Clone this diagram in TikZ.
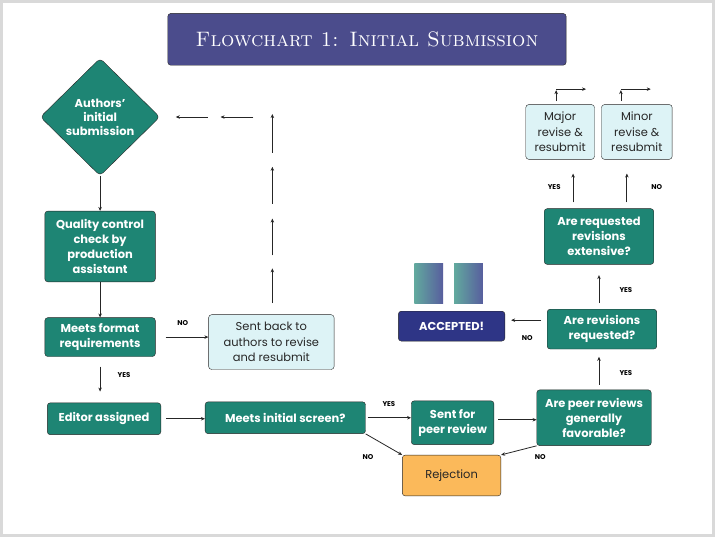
\documentclass[tikz,border=0pt]{standalone}
\usepackage{fontspec}
\setsansfont{Poppins}
\usetikzlibrary{arrows.meta, shapes.geometric}
\definecolor{teal1}{HTML}{1E8574}
\definecolor{pale}{HTML}{DDF3F6}
\definecolor{navy}{HTML}{2E3586}
\definecolor{plum}{HTML}{4B4C8C}
\definecolor{amber}{HTML}{FBB95A}
\tikzset{
  box/.style = {draw=black!85, rounded corners=3pt, align=center, inner sep=1pt,
    font=\sffamily\bfseries\fontsize{11.5}{15}\selectfont},
  stepbox/.style = {box, fill=teal1, text=white},% green step
  backbox/.style = {box, fill=pale, text=black!85, font=\sffamily\fontsize{11.5}{15.5}\selectfont},
  flow/.style = {-{Stealth[length=4pt,width=3.5pt]}, thick, draw=black!85},
  tag/.style = {font=\sffamily\bfseries\fontsize{7}{8}\selectfont}
}
\begin{document}
\begin{tikzpicture}[x=1pt, y=-1pt]
\draw[black!15, line width=3pt, fill=white] (0,0) rectangle (715,536);
\useasboundingbox (0,0) rectangle (715,536);
% title
\node (title) [box, fill=plum, text=white, minimum width=400, minimum height=52,
  font=\fontsize{21}{24}\selectfont] at (367,38) {\textsc{Flowchart 1: Initial Submission}};
% boxes
\node (auth) [stepbox, diamond, rounded corners=4pt, minimum width=120, minimum height=118, aspect=1,
  inner sep=0pt] at (99,116) {};
\node (authtext) [text=white, align=center, font=\sffamily\bfseries\fontsize{11.5}{14}\selectfont]
  at (auth.center) {Authors'\\initial\\submission};
\node (qc) [stepbox, minimum width=111, minimum height=71] at (99,246) {Quality control\\check by\\production\\assistant};
\node (fmt) [stepbox, minimum width=111, minimum height=39] at (99,337) {Meets format\\requirements};
\node (ed) [stepbox, minimum width=114, minimum height=32] at (103,419) {Editor assigned};
\node (scr) [stepbox, minimum width=161, minimum height=32] at (285,418) {Meets initial screen?};
\node (back) [backbox, minimum width=126, minimum height=55] at (271,342) {Sent back to\\authors to revise\\and resubmit};
\node (peer) [stepbox, minimum width=83, minimum height=44] at (453,423) {Sent for\\peer review};
\node (rej) [box, fill=amber, text=black!85, font=\sffamily\fontsize{11.5}{14}\selectfont,
  minimum width=99, minimum height=41] at (452,476) {Rejection};
\node (fav) [stepbox, minimum width=115, minimum height=56] at (595,418) {Are peer reviews\\generally\\favorable?};
\node (req) [stepbox, minimum width=110, minimum height=40] at (603,329) {Are revisions\\requested?};
\node (acc) [box, fill=navy, text=white, minimum width=107, minimum height=30] at (452,326) {ACCEPTED!};
\node (ext) [stepbox, minimum width=110, minimum height=56] at (600,236) {Are requested\\revisions\\extensive?};
\node (maj) [backbox, minimum width=69, minimum height=55] at (561,131) {Major\\revise \&\\resubmit};
\node (min) [backbox, minimum width=71, minimum height=55] at (638,131) {Minor\\revise \&\\resubmit};
% journal covers
\foreach \cx/\nm in {429/coverA, 469/coverB}
  \node (\nm) [minimum width=29, minimum height=40, inner sep=0,
    left color=teal1!70, right color=navy!80] at (\cx,283) {};
% straight connectors
\draw[flow] (auth) -- (qc);
\draw[flow] (qc) -- (fmt);
\draw[flow] (fmt.east) ++(10,0) coordinate (f1) (f1) -- (back.west |- f1);
\draw[flow] (fmt.south) ++(0,10) coordinate (f2) (f2) -- ++(0,25) coordinate (f3);
\draw[flow] (ed.east) ++(5,0) coordinate (e1) (e1) -- (scr.west |- e1);
\draw[flow] (scr.east) ++(2,0) coordinate (s1) (s1) -- (peer.west |- s1);
\draw[flow] (scr.south east) coordinate (s2) (s2) -- (rej.north west);
\draw[flow] (peer.east) ++(4,-3) coordinate (p1) (p1) -- (fav.west |- p1);
\draw[flow] (fav.south west) coordinate (v1) (v1) -- (rej.north east);
\draw[flow] (fav.north) ++(5,-5) coordinate (v2) (v2) -- ++(0,-28);
\draw[flow] (req.west) ++(-6,-9) coordinate (r1) (r1) -- ++(-30,0);
\draw[flow] (req.north) ++(-3,-6) coordinate (r2) (r2) -- ++(0,-28);
\draw[flow] (ext.north) ++(-26,-6) coordinate (x1) (x1) -- ++(0,-29);
\draw[flow] (ext.north) ++(28,-6) coordinate (x2) (x2) -- ++(0,-29);
% broken return path
\foreach \ya/\yb in {303/268, 255/218, 203/166, 152/113}
  \draw[flow] (272,\ya) coordinate (u\ya) -- (272,\yb);
\foreach \xa/\xb in {253/220, 207/175}
  \draw[flow] (\xa,116) coordinate (l\xa) -- (\xb,116);
% little arrows above the revise boxes
\foreach \bx in {557, 622} {
  \draw[flow] (\bx,100) coordinate (t\bx) -- (\bx,89);
  \draw[flow] (\bx,88) -- ++(30,0);
}
% labels
\node[tag] at (182,323) {NO};
\node[tag] at (123,375) {YES};
\node[tag] at (389,404) {YES};
\node[tag] at (368,457) {NO};
\node[tag] at (541,457) {NO};
\node[tag] at (627,373) {YES};
\node[tag] at (528,338) {NO};
\node[tag] at (627,290) {YES};
\node[tag] at (555,186) {YES};
\node[tag] at (658,186) {NO};
\end{tikzpicture}
\end{document}
